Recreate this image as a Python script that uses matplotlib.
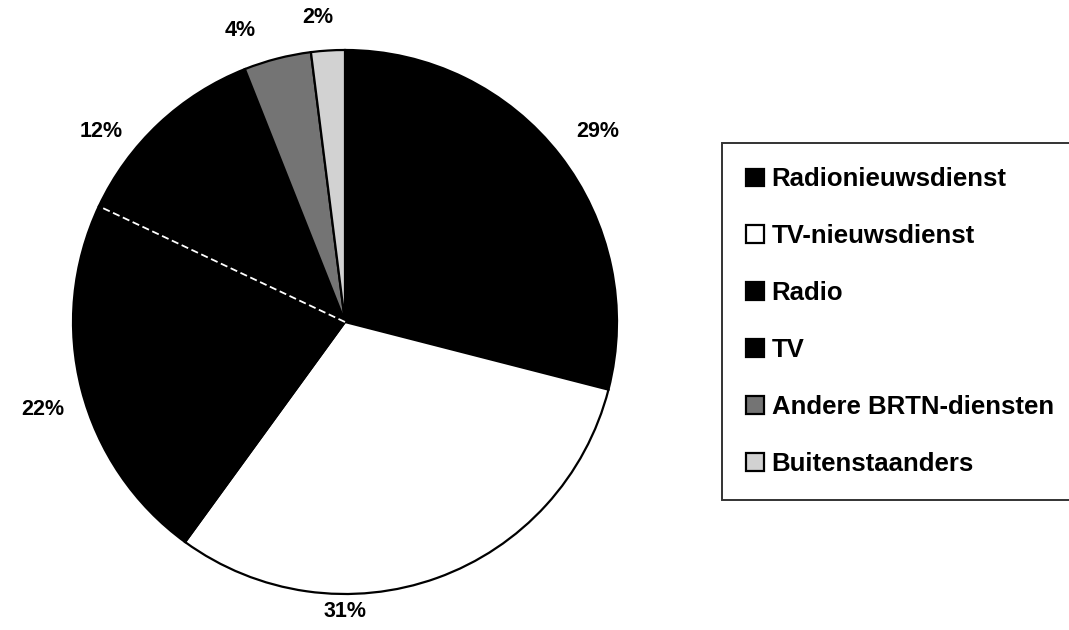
import numpy as np
import matplotlib
matplotlib.use('Agg')
import matplotlib.pyplot as plt

# Data
labels = ['Radionieuwsdienst', 'TV-nieuwsdienst', 'Radio', 'TV',
          'Andere BRTN-diensten', 'Buitenstaanders']
shares = [29, 31, 22, 12, 4, 2]
colors = ['black', 'white', 'black', 'black', '#747474', '#d2d2d2']

# label placement (in pie radius units), as in the original layout
label_pos = [(0.93, 0.70), (0.0, -1.063), (-1.11, -0.32),
             (-0.897, 0.702), (-0.386, 1.07), (-0.099, 1.118)]

plt.rcParams['font.family'] = ['Liberation Sans', 'DejaVu Sans']

fig = plt.figure(figsize=(10.69, 6.3), dpi=100)
# pie centre ~ (345, 322) px, radius ~ 272 px
cx, cy, r = 345, 322, 272
W, H = 1069, 630
ax = fig.add_axes([(cx - r) / W, (H - cy - r) / H, 2 * r / W, 2 * r / H])

wedges, texts, autotexts = ax.pie(
    shares, colors=colors, startangle=90, counterclock=False,
    autopct='%1.0f%%', pctdistance=1.14,
    wedgeprops=dict(edgecolor='black', linewidth=1.6),
    textprops=dict(fontsize=15.5, fontweight='bold', color='black'))

for t, p in zip(autotexts, label_pos):
    t.set_position(p)

# thin white seam between the two black slices Radio / TV
ang = np.deg2rad(90 - (shares[0] + shares[1] + shares[2]) / 100 * 360)
ax.plot([0, 0.99 * np.cos(ang)], [0, 0.99 * np.sin(ang)], color='white',
        lw=1.3, ls=(0, (4, 2)))

ax.set_xlim(-1, 1)
ax.set_ylim(-1, 1)
ax.set_aspect('equal')
ax.axis('off')

leg = fig.legend(wedges, labels, loc='upper left',
                 bbox_to_anchor=(722 / W, 1 - 143 / H),
                 prop=dict(size=18.5, weight='bold'), frameon=True,
                 fancybox=False, handlelength=0.68, handleheight=0.68,
                 handletextpad=0.3, labelspacing=1.28, borderpad=0.95,
                 borderaxespad=0)
leg.get_frame().set_edgecolor('black')
leg.get_frame().set_linewidth(1.4)

fig.savefig('out.png', dpi=100, facecolor='white')
